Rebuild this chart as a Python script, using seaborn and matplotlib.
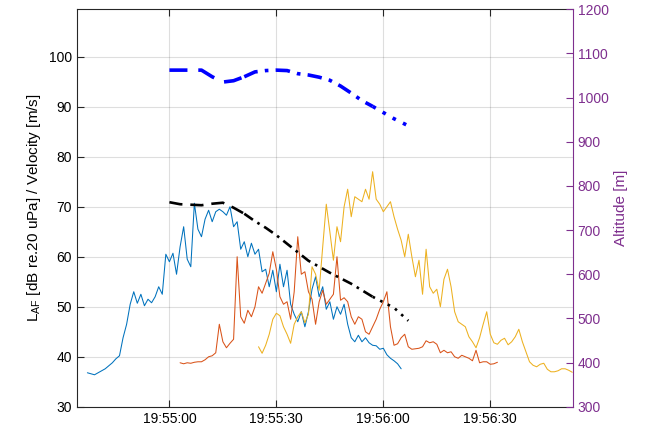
import matplotlib
matplotlib.use('Agg')
import matplotlib.pyplot as plt
import seaborn as sns
import numpy as np
import pandas as pd

# time in seconds relative to 19:55:00, one reading per second
blue_t0 = -23
blue_laf = [36.8, 36.6, 36.4, 36.8, 37.2, 37.6, 38.2, 38.8, 39.6, 40.2,
            43.8, 46.5, 50.5, 53.0, 50.7, 52.5, 50.2, 51.5, 50.8, 52.0,
            54.0, 52.5, 60.5, 59.0, 60.7, 56.5, 62.0, 66.0, 59.5, 58.0,
            70.7, 65.5, 64.0, 67.5, 69.3, 67.0, 69.0, 69.5, 69.0, 68.3,
            70.0, 66.0, 67.0, 61.5, 63.0, 60.0, 62.7, 60.5, 61.5, 57.0,
            57.5, 54.0, 57.3, 53.0, 58.5, 54.0, 57.3, 50.5, 48.5, 47.0,
            49.0, 46.0, 49.0, 53.5, 56.0, 52.0, 54.0, 49.5, 51.0, 47.5,
            50.0, 48.5, 50.5, 46.5, 43.8, 43.0, 44.3, 43.0, 43.8, 42.8,
            42.3, 42.2, 41.5, 41.7, 40.4, 39.7, 39.2, 38.6, 37.6]

orange_t0 = 3
orange_laf = [38.8, 38.6, 38.8, 38.7, 38.9, 39.0, 39.0, 39.4, 40.0, 40.2,
              40.8, 46.5, 43.0, 41.8, 42.7, 43.5, 60.0, 48.0, 46.7, 49.3,
              48.0, 50.0, 54.0, 52.7, 54.7, 56.7, 61.0, 57.5, 52.0, 50.5,
              51.0, 47.5, 53.0, 64.0, 56.5, 57.0, 53.0, 51.5, 46.5, 51.0,
              53.3, 50.5, 51.5, 52.5, 60.0, 51.3, 51.8, 51.0, 48.0, 46.5,
              48.0, 47.5, 45.0, 44.5, 46.0, 47.5, 49.5, 51.0, 53.0, 46.0,
              42.3, 42.6, 43.8, 44.5, 42.0, 41.5, 41.6, 41.7, 42.0, 43.2,
              42.8, 43.0, 42.5, 40.8, 41.3, 40.8, 41.0, 40.0, 39.7, 40.3,
              40.0, 39.7, 39.2, 41.3, 38.8, 39.0, 39.0, 38.5, 38.6, 38.9]

yellow_t0 = 25
yellow_laf = [42.0, 40.7, 42.3, 44.5, 47.5, 48.7, 48.2, 46.0, 44.5, 42.7,
              46.5, 48.0, 49.0, 46.8, 48.5, 58.0, 56.5, 53.3, 62.0, 70.5,
              65.0, 59.3, 66.0, 63.0, 70.0, 73.5, 68.0, 72.0, 71.5, 71.0,
              73.5, 71.5, 77.0, 71.5, 70.5, 69.0, 70.0, 71.0, 68.0, 65.5,
              63.3, 60.0, 64.5, 60.0, 56.0, 59.3, 52.5, 61.5, 54.0, 52.7,
              53.5, 50.0, 55.5, 57.5, 54.0, 49.0, 47.0, 46.5, 46.0, 44.0,
              43.0, 41.8, 43.8, 46.5, 49.0, 44.5, 42.8, 42.5, 43.3, 43.7,
              42.4, 43.0, 44.0, 45.5, 43.0, 41.0, 39.0, 38.3, 38.0, 38.5,
              38.7, 37.5, 37.0, 37.0, 37.2, 37.6, 37.6, 37.3, 36.9]

gps_t = [0, 3, 6, 9, 12, 15, 18, 21, 24, 27, 30, 33, 36, 39, 42, 45, 48,
         51, 54, 57, 60, 63, 67]
velocity = [70.9, 70.5, 70.4, 70.3, 70.6, 70.8, 69.8, 68.6, 67.1, 65.8,
            64.3, 62.6, 60.9, 59.2, 58.0, 56.8, 55.7, 54.6, 53.3, 52.0,
            50.9, 49.8, 47.2]
altitude = [1062, 1062, 1062, 1062, 1047, 1035, 1038, 1047, 1058, 1061,
            1062, 1061, 1054, 1051, 1046, 1039, 1026, 1010, 993, 980,
            966, 952, 936]

xticks = [0, 30, 60, 90]
xtick_labels = ['19:55:00', '19:55:30', '19:56:00', '19:56:30']

sns.set_style('ticks')
plt.rcParams['font.family'] = ['Liberation Sans', 'DejaVu Sans']
plt.rcParams['mathtext.fontset'] = 'custom'
plt.rcParams['mathtext.rm'] = 'Liberation Sans'
plt.rcParams['font.size'] = 10

axis_grey = '#262626'
purple = '#7E2F8E'

fig = plt.figure(figsize=(6.5, 4.36), dpi=100)
ax = fig.add_axes([0.118, 0.067, 0.763, 0.912])
ax2 = ax.twinx()

for t0, vals, col in [(blue_t0, blue_laf, '#0072BD'),
                      (orange_t0, orange_laf, '#D95319'),
                      (yellow_t0, yellow_laf, '#EDB120')]:
    t = t0 + np.arange(len(vals))
    sns.lineplot(x=t, y=vals, ax=ax, color=col, linewidth=0.75)

gps = pd.DataFrame({'t': gps_t, 'v': velocity, 'alt': altitude})
# dash style changes along the track as in the original rendering
parts = [(gps[gps.t <= 21], (0, (5, 3))),
         (gps[(gps.t >= 21) & (gps.t <= 57)], (0, (4, 2, 1, 2))),
         (gps[gps.t >= 57], (0, (1, 2.2)))]
for part, ls in parts:
    sns.lineplot(data=part, x='t', y='v', ax=ax, color='black',
                 linewidth=1.9, linestyle=ls)
    sns.lineplot(data=part, x='t', y='alt', ax=ax2, color='#0000FF',
                 linewidth=2.6, linestyle=ls)

ax.set_xlim(-26, 113.1)
ax.set_ylim(30, 109.5)
ax.set_yticks(np.arange(30, 101, 10))
ax.set_xticks(xticks)
ax.set_xticklabels(xtick_labels)
ax2.set_ylim(300, 1200)
ax2.set_yticks(np.arange(300, 1201, 100))

ax.grid(True, color='#262626', alpha=0.15, linewidth=0.8)
ax.set_xlabel('')
ax.set_ylabel(r'L$_{\mathrm{AF}}$ [dB re.20 uPa] / Velocity [m/s]',
              color='black', fontsize=11)
ax2.set_ylabel('Altitude [m]', color=purple, fontsize=11)

ax.tick_params(axis='both', direction='in', length=5, width=0.8,
               colors=axis_grey, labelcolor='black', top=True, right=False,
               labelsize=10)
ax2.tick_params(axis='y', direction='in', length=5, width=0.8,
                colors=purple, labelcolor=purple, labelsize=10)
for side in ['left', 'top', 'bottom']:
    ax.spines[side].set_color(axis_grey)
    ax.spines[side].set_linewidth(0.8)
ax2.spines['right'].set_color(purple)
ax2.spines['right'].set_linewidth(0.8)
ax.spines['right'].set_visible(False)
for side in ['left', 'top', 'bottom']:
    ax2.spines[side].set_visible(False)

fig.savefig('out.png', dpi=100)
